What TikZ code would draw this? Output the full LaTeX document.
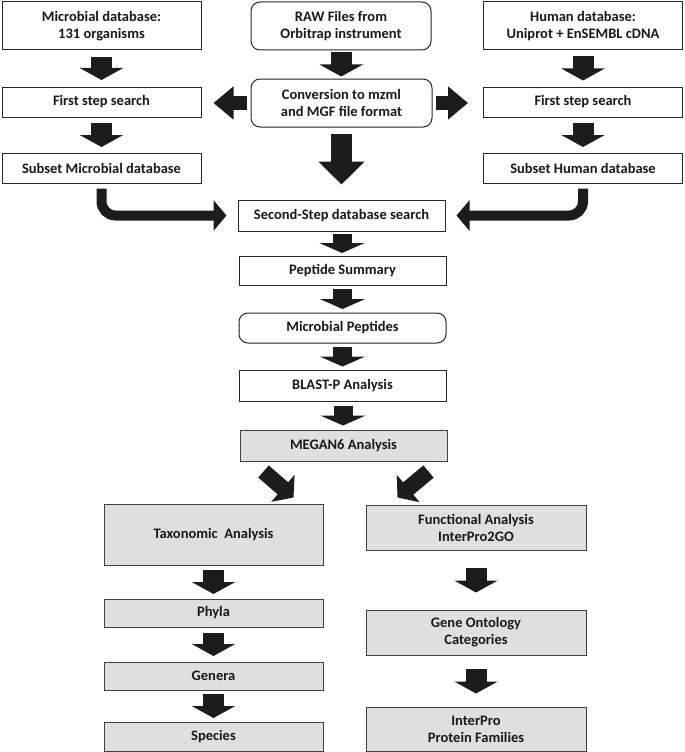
\documentclass[tikz,border=0pt]{standalone}
\usepackage{fontspec}
\setmainfont{Carlito}
\usepackage{tikz}
\usetikzlibrary{calc}
\usetikzlibrary{positioning}
\usetikzlibrary{arrows.meta}
\definecolor{boxgray}{RGB}{222,223,225}
\definecolor{arrowblack}{RGB}{28,28,28}
\tikzstyle{boxnode} = [draw=black!85, line width=1pt, rectangle, inner sep=0pt, align=center, text=black!90, font=\fontsize{14.5}{17}\selectfont\bfseries]
\tikzstyle{roundnode} = [boxnode, rounded corners=9pt]
\tikzstyle{sidebox} = [minimum width=199pt]
\tikzstyle{centerbox} = [minimum width=207pt]
\tikzstyle{lowbox} = [minimum width=219pt]
\tikzstyle{colorGray} = [fill=boxgray, draw=black!75]
\tikzstyle{fatarrow} = [draw=arrowblack, line width=21pt, -{Triangle[length=12pt,width=43pt]}]
\tikzstyle{thinarrow} = [draw=arrowblack, line width=19pt, -{Triangle[length=10pt,width=45pt]}]
\tikzstyle{bigarrow} = [draw=arrowblack, line width=21pt, -{Triangle[length=23pt,width=45pt]}]
\tikzstyle{sidearrow} = [draw=arrowblack, line width=14pt, -{Triangle[length=20pt,width=32pt]}]
\tikzstyle{bendarrow} = [draw=arrowblack, line width=10pt, rounded corners=14pt, -{Triangle[length=13pt,width=30pt]}]
\tikzstyle{diagarrow} = [draw=arrowblack, line width=16pt, -{Triangle[length=14pt,width=35pt]}]
% block arrow centred in the gap between two nodes
\newcommand{\downblock}[4][fatarrow]{%
  \draw[#1] ($(#2.south)!0.5!(#3.north)+(0,-#4)$) -- ($(#2.south)!0.5!(#3.north)+(0,#4)$);}

\begin{document}
\begin{tikzpicture}[x=1pt, y=-1pt]
\useasboundingbox[fill=white] (0,0) rectangle (685,752);

% top row
\node[boxnode, sidebox, minimum height=48pt] (micro_db) at (101.5,26) {Microbial database:\\131 organisms};
\node[roundnode, minimum width=180pt, minimum height=48pt] (raw_files) at (341,26) {RAW Files from\\Orbitrap instrument};
\node[boxnode, sidebox, minimum height=48pt] (human_db) at (583,26) {Human database:\\Uniprot + EnSEMBL cDNA};

% first step search
\node[boxnode, sidebox, minimum height=30pt] (micro_first) at (101.5,102) {First step search};
\node[roundnode, minimum width=181pt, minimum height=48pt] (conversion) at (341.5,103) {Conversion to mzml\\and MGF file format};
\node[boxnode, sidebox, minimum height=30pt] (human_first) at (583,102) {First step search};

\node[boxnode, sidebox, minimum height=30pt] (micro_subset) at (101.5,168) {Subset Microbial database};
\node[boxnode, sidebox, minimum height=30pt] (human_subset) at (583,168) {Subset Human database};

% centre column
\node[boxnode, centerbox, minimum height=31pt] (second_search) at (341.5,215.5) {Second-Step database search};
\node[boxnode, centerbox, minimum height=29pt] (peptide_summary) at (342.5,270.5) {Peptide Summary};
\node[roundnode, centerbox, minimum height=30pt] (microbial_peptides) at (342.5,328) {Microbial Peptides};
\node[boxnode, centerbox, minimum height=31pt] (blastp) at (342.5,385.5) {BLAST-P Analysis};
\node[boxnode, colorGray, centerbox, minimum height=31pt] (megan) at (343.5,445.5) {MEGAN6 Analysis};

% taxonomy branch
\node[boxnode, colorGray, lowbox, minimum height=61pt] (taxonomic) at (213.5,534.5) {Taxonomic\ \ Analysis};
\node[boxnode, colorGray, lowbox, minimum height=28pt] (phyla) at (213.5,613) {Phyla};
\node[boxnode, colorGray, lowbox, minimum height=28pt] (genera) at (213.5,676) {Genera};
\node[boxnode, colorGray, lowbox, minimum height=29pt] (species) at (213.5,736.5) {Species};

% function branch
\node[boxnode, colorGray, minimum width=220pt, minimum height=45pt] (functional) at (476,527.5) {Functional Analysis\\InterPro2GO};
\node[boxnode, colorGray, minimum width=220pt, minimum height=45pt] (gene_ontology) at (476,632.5) {Gene Ontology\\Categories};
\node[boxnode, colorGray, minimum width=220pt, minimum height=44pt] (interpro) at (476,729) {InterPro\\Protein Families};

% arrows
\downblock{micro_db}{micro_first}{11.5}
\downblock{raw_files}{conversion}{12}
\downblock{human_db}{human_first}{12}
\downblock{micro_first}{micro_subset}{12}
\downblock{human_first}{human_subset}{12}
\draw[sidearrow, shorten <=4pt, shorten >=12pt] (conversion.west) -- (conversion.west -| micro_first.east);
\draw[sidearrow, shorten <=3pt, shorten >=15pt] (conversion.east) -- (conversion.east -| human_first.west);
\draw[bigarrow, shorten <=6pt, shorten >=15pt] (conversion.south) -- (conversion.south |- second_search.north);
\draw[bendarrow, shorten <=5pt, shorten >=11pt] (micro_subset.south) |- (second_search.west);
\draw[bendarrow, shorten <=5pt, shorten >=11pt] (human_subset.south) |- (second_search.east);
\downblock[thinarrow]{second_search}{peptide_summary}{9.5}
\downblock[thinarrow]{peptide_summary}{microbial_peptides}{10}
\downblock[thinarrow]{microbial_peptides}{blastp}{10}
\downblock[thinarrow]{blastp}{megan}{10}
\draw[diagarrow] ($(megan.south west)+(24,10)$) -- ($(taxonomic.north east)+(-30,-6)$);
\draw[diagarrow] ($(megan.south east)+(-19,10)$) -- ($(functional.north west)+(32,-7)$);
\downblock{taxonomic}{phyla}{12}
\downblock{phyla}{genera}{11.5}
\downblock{genera}{species}{12}
\downblock{functional}{gene_ontology}{12.5}
\downblock{gene_ontology}{interpro}{12.5}
\end{tikzpicture}
\end{document}
